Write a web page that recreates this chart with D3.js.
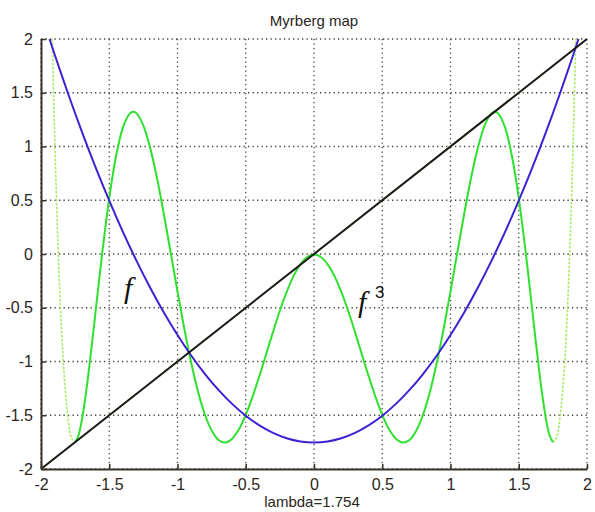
<!DOCTYPE html>
<html>
<head>
<meta charset="utf-8">
<script src="https://cdn.jsdelivr.net/npm/d3@7"></script>
<style>
  body { margin: 0; background: #fff; }
  svg { display: block; }
</style>
</head>
<body>
<div id="chart"></div>
<script>
// values (lambda = 1.754)
const tickValues = [-2, -1.5, -1, -0.5, 0, 0.5, 1, 1.5, 2];
const titleText = 'Myrberg map';
const xLabelText = 'lambda=1.754';

// f(x) = x^2 - lambda, blue
const fX = [-1.9375, -1.9, -1.8, -1.7, -1.6, -1.5, -1.4, -1.3, -1.2, -1.1, -1.0, -0.9, -0.8, -0.7, -0.6, -0.5, -0.4, -0.3, -0.2, -0.1,
  0, 0.1, 0.2, 0.3, 0.4, 0.5, 0.6, 0.7, 0.8, 0.9, 1.0, 1.1, 1.2, 1.3, 1.4, 1.5, 1.6, 1.7, 1.8, 1.9, 1.9375];
const fY = [2.0, 1.856, 1.486, 1.136, 0.806, 0.496, 0.206, -0.064, -0.314, -0.544, -0.754, -0.944, -1.114, -1.264, -1.394, -1.504, -1.594, -1.664, -1.714, -1.744,
  -1.754, -1.744, -1.714, -1.664, -1.594, -1.504, -1.394, -1.264, -1.114, -0.944, -0.754, -0.544, -0.314, -0.064, 0.206, 0.496, 0.806, 1.136, 1.486, 1.856, 2.0];

// f^3, green
const f3X = [-1.917, -1.91, -1.9, -1.875, -1.85, -1.825, -1.8, -1.775, -1.75, -1.725, -1.7, -1.675, -1.65, -1.625, -1.6, -1.575, -1.55,
  -1.5, -1.45, -1.4, -1.35, -1.325, -1.3, -1.25, -1.2, -1.15, -1.1, -1.05, -1.0, -0.95, -0.9, -0.85, -0.8, -0.75, -0.7, -0.65, -0.6,
  -0.55, -0.5, -0.45, -0.4, -0.35, -0.3, -0.25, -0.2, -0.15, -0.1, -0.05,
  0, 0.05, 0.1, 0.15, 0.2, 0.25, 0.3, 0.35, 0.4, 0.45, 0.5, 0.55, 0.6, 0.65, 0.7, 0.75, 0.8, 0.85, 0.9, 0.95, 1.0,
  1.05, 1.1, 1.15, 1.2, 1.25, 1.3, 1.325, 1.35, 1.4, 1.45, 1.5, 1.55, 1.575, 1.6, 1.625, 1.65, 1.675, 1.7, 1.725, 1.75,
  1.775, 1.8, 1.825, 1.85, 1.875, 1.9, 1.91, 1.917];
const f3Y = [2.0, 1.608, 1.105, 0.067, -0.693, -1.219, -1.548, -1.715, -1.752, -1.686, -1.539, -1.334, -1.088, -0.817, -0.534, -0.251, 0.024,
  0.520, 0.911, 1.176, 1.306, 1.323, 1.308, 1.195, 0.986, 0.704, 0.372, 0.014, -0.349, -0.695, -1.009, -1.278, -1.491, -1.642, -1.730, -1.754, -1.718,
  -1.630, -1.496, -1.327, -1.135, -0.930, -0.724, -0.528, -0.353, -0.206, -0.096, -0.028,
  -0.005, -0.028, -0.096, -0.206, -0.353, -0.528, -0.724, -0.930, -1.135, -1.327, -1.496, -1.630, -1.718, -1.754, -1.730, -1.642, -1.491, -1.278, -1.009, -0.695, -0.349,
  0.014, 0.372, 0.704, 0.986, 1.195, 1.308, 1.323, 1.306, 1.176, 0.911, 0.520, 0.024, -0.251, -0.534, -0.817, -1.088, -1.334, -1.539, -1.686, -1.752,
  -1.715, -1.548, -1.219, -0.693, 0.067, 1.105, 1.608, 2.0];

// y = x, black
const diagX = [-2, 2];
const diagY = [-2, 2];

const width = 595, height = 512;
const margin = { left: 41, right: 8, top: 39, bottom: 43 };
const innerW = width - margin.left - margin.right;
const innerH = height - margin.top - margin.bottom;

const svg = d3.select('#chart').append('svg')
  .attr('width', width)
  .attr('height', height)
  .style('font-family', '"Liberation Sans", Arial, sans-serif');

const g = svg.append('g').attr('transform', `translate(${margin.left},${margin.top})`);

const x = d3.scaleLinear().domain([-2, 2]).range([0, innerW]);
const y = d3.scaleLinear().domain([-2, 2]).range([innerH, 0]);

// dotted grid
const gridColor = '#4a4438';
tickValues.forEach(v => {
  g.append('line')
    .attr('x1', x(v)).attr('x2', x(v))
    .attr('y1', 0).attr('y2', innerH)
    .attr('stroke', gridColor)
    .attr('stroke-width', 1.3)
    .attr('stroke-dasharray', '1.3,3.2');
  g.append('line')
    .attr('x1', 0).attr('x2', innerW)
    .attr('y1', y(v)).attr('y2', y(v))
    .attr('stroke', gridColor)
    .attr('stroke-width', 1.3)
    .attr('stroke-dasharray', '1.3,3.2');
});

// curves, clipped to the axes box
g.append('clipPath').attr('id', 'clip')
  .append('rect').attr('width', innerW).attr('height', innerH);

const plot = g.append('g').attr('clip-path', 'url(#clip)');

const line = d3.line()
  .x(d => x(d[0]))
  .y(d => y(d[1]))
  .curve(d3.curveCatmullRom.alpha(0.5));

const fPts = fX.map((v, i) => [v, fY[i]]);
const f3Pts = f3X.map((v, i) => [v, f3Y[i]]);

// steep outer branches of f^3 look faint in the picture
const f3Left = f3Pts.filter(p => p[0] <= -1.75);
const f3Mid = f3Pts.filter(p => p[0] >= -1.75 && p[0] <= 1.75);
const f3Right = f3Pts.filter(p => p[0] >= 1.75);

[f3Left, f3Right].forEach(pts => {
  plot.append('path')
    .attr('d', line(pts))
    .attr('fill', 'none')
    .attr('stroke', '#a6ea66')
    .attr('stroke-width', 1.6)
    .attr('stroke-dasharray', '2.5,1.5');
});

plot.append('path')
  .attr('d', line(f3Mid))
  .attr('fill', 'none')
  .attr('stroke', '#2fe02f')
  .attr('stroke-width', 2);

plot.append('path')
  .attr('d', line(fPts))
  .attr('fill', 'none')
  .attr('stroke', '#3d22d4')
  .attr('stroke-width', 2);

plot.append('path')
  .attr('d', d3.line().x(d => x(d[0])).y(d => y(d[1]))(diagX.map((v, i) => [v, diagY[i]])))
  .attr('fill', 'none')
  .attr('stroke', '#1a1a14')
  .attr('stroke-width', 2);

// axes, ticks pointing inward
const axisColor = '#3a3228';
const xAxis = g.append('g')
  .attr('transform', `translate(0,${innerH})`)
  .call(d3.axisBottom(x).tickValues(tickValues).tickFormat(d => String(d)).tickSizeInner(-5).tickSizeOuter(0).tickPadding(10));
const yAxis = g.append('g')
  .call(d3.axisLeft(y).tickValues(tickValues).tickFormat(d => String(d)).tickSizeInner(-5).tickSizeOuter(0).tickPadding(8));

[xAxis, yAxis].forEach(a => {
  a.select('.domain').attr('stroke', axisColor).attr('stroke-width', 2);
  a.selectAll('.tick line').attr('stroke', axisColor).attr('stroke-width', 1.5);
  a.selectAll('.tick text')
    .attr('fill', '#2a2620')
    .style('font-size', '16px')
    .style('font-family', '"Liberation Sans", Arial, sans-serif');
});

// title and label
svg.append('text')
  .attr('x', 314).attr('y', 26)
  .attr('text-anchor', 'middle')
  .attr('fill', '#2a2620')
  .style('font-size', '15px')
  .text(titleText);

svg.append('text')
  .attr('x', 312).attr('y', 507)
  .attr('text-anchor', 'middle')
  .attr('fill', '#2a2620')
  .style('font-size', '15px')
  .text(xLabelText);

// curve names
svg.append('text')
  .attr('x', 124).attr('y', 298)
  .style('font-family', '"Liberation Serif", serif')
  .style('font-style', 'italic')
  .style('font-size', '30px')
  .attr('fill', '#111')
  .text('f');

const f3Label = svg.append('text')
  .attr('x', 358).attr('y', 312)
  .style('font-family', '"Liberation Serif", serif')
  .style('font-style', 'italic')
  .style('font-size', '30px')
  .attr('fill', '#111');
f3Label.append('tspan').text('f');
f3Label.append('tspan')
  .attr('x', 375).attr('y', 298)
  .style('font-size', '17px')
  .style('font-style', 'normal')
  .style('font-family', '"Liberation Sans", Arial, sans-serif')
  .text('3');
</script>
</body>
</html>
